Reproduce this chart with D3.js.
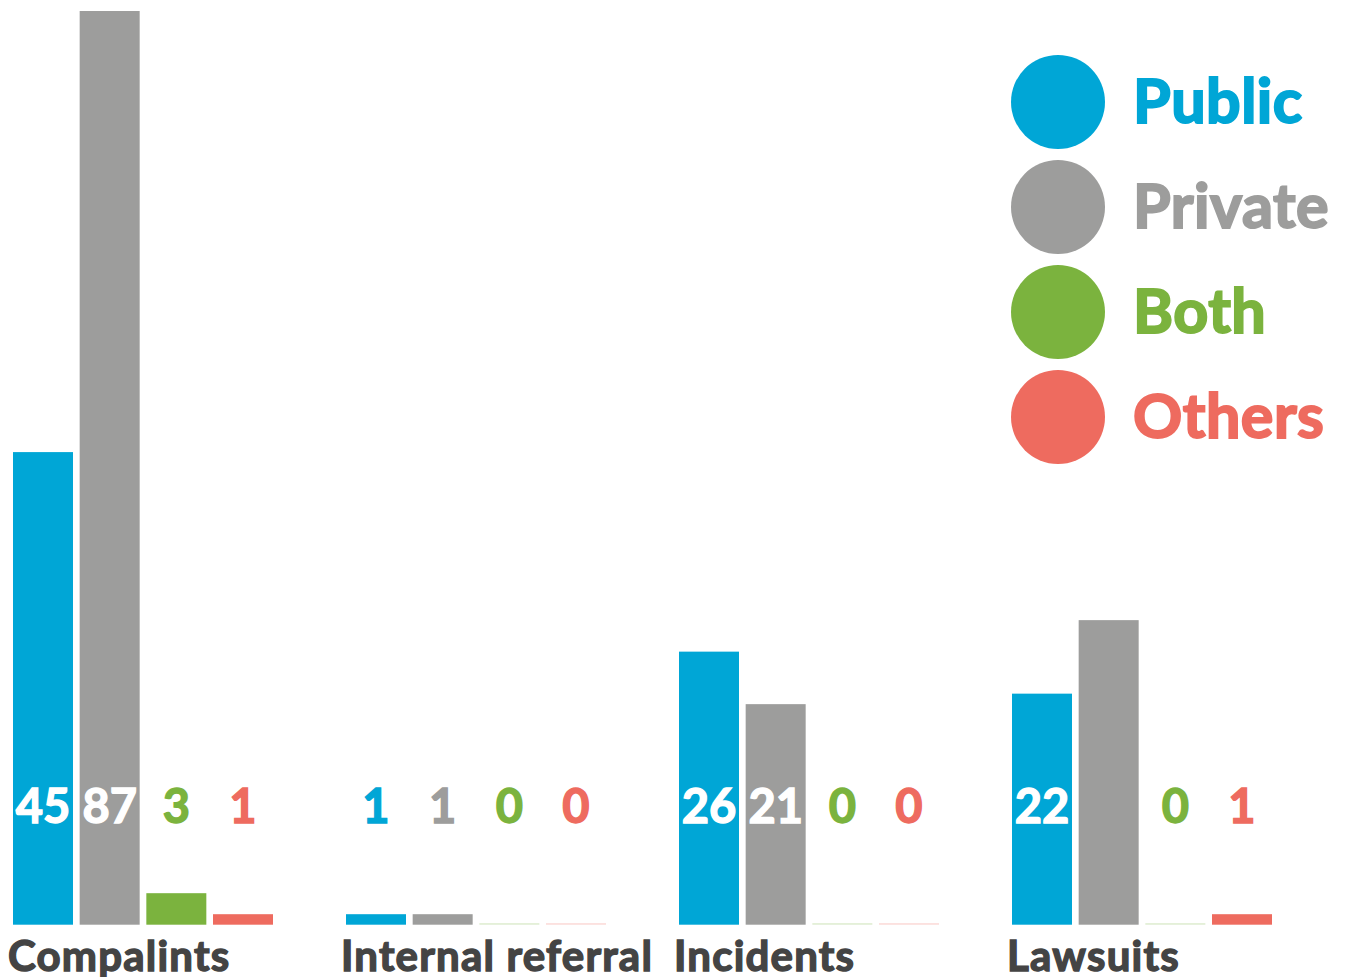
<!DOCTYPE html>
<html>
<head>
<meta charset="utf-8">
<script src="https://cdn.jsdelivr.net/npm/d3@7"></script>
<style>
  html, body { margin: 0; padding: 0; background: #fff; }
  svg { display: block; font-family: Lato, "Open Sans", sans-serif; }
</style>
</head>
<body>
<div id="chart"></div>
<script>
// data
const categories = ["Compalints", "Internal referral", "Incidents", "Lawsuits"];
const series = ["Public", "Private", "Both", "Others"];
const colors = ["#00a6d6", "#9d9d9c", "#7bb33e", "#ee6b5f"];
const publicValues = [45, 1, 26, 22];
const privateValues = [87, 1, 21, 29];
const bothValues = [3, 0, 0, 0];
const othersValues = [1, 0, 0, 1];
// the private lawsuits bar carries no number in the original
const privateLabelShown = [true, true, true, false];

const seriesValues = [publicValues, privateValues, bothValues, othersValues];

const width = 1346;
const height = 977;
const baseline = 924.7;

const svg = d3.select("#chart")
    .append("svg")
    .attr("width", width)
    .attr("height", height);

//scales
const x0 = d3.scaleBand()
    .domain(categories)
    .range([13, 1345])
    .paddingInner(0)
    .paddingOuter(0);

const x1 = d3.scaleBand()
    .domain(series)
    .range([0, 260])
    .paddingInner(0.1)
    .paddingOuter(0);

const y = d3.scaleLinear()
    .domain([0, 87])
    .range([baseline, 11]);

//flatten into one row per bar
const bars = [];
categories.forEach((cat, ci) => {
    series.forEach((s, si) => {
        bars.push({
            category: cat,
            series: s,
            color: colors[si],
            value: seriesValues[si][ci],
            showLabel: si == 1 ? privateLabelShown[ci] : true
        });
    });
});

const groups = svg.selectAll(".group")
    .data(categories)
    .enter().append("g")
    .attr("class", "group")
    .attr("transform", d => `translate(${x0(d)},0)`);

groups.selectAll(".bar")
    .data(cat => bars.filter(b => b.category == cat))
    .enter().append("rect")
    .attr("class", "bar")
    .attr("x", d => x1(d.series))
    .attr("width", x1.bandwidth())
    .attr("y", d => d.value > 0 ? y(d.value) : baseline - 1.5)
    .attr("height", d => d.value > 0 ? baseline - y(d.value) : 1.5)
    .style("fill", d => d.color)
    .style("fill-opacity", d => d.value > 0 ? 1 : 0.25);

// value labels sit at a fixed height, white inside tall bars
// (a thin stroke of the same colour makes the bold face look heavier)
const labelBaseline = 823;
groups.selectAll(".val")
    .data(cat => bars.filter(b => b.category == cat && b.showLabel))
    .enter().append("text")
    .attr("class", "val")
    .attr("x", d => x1(d.series) + x1.bandwidth() / 2)
    .attr("y", labelBaseline)
    .attr("text-anchor", "middle")
    .style("font-size", "47px")
    .style("font-weight", 700)
    .style("fill", d => y(d.value) < labelBaseline - 40 ? "#fff" : d.color)
    .style("stroke", d => y(d.value) < labelBaseline - 40 ? "#fff" : d.color)
    .style("stroke-width", 1.4)
    .text(d => d.value);

// category names under the baseline, cut by the bottom edge as in the original
svg.selectAll(".cat")
    .data(categories)
    .enter().append("text")
    .attr("class", "cat")
    .attr("x", d => x0(d) - 5)
    .attr("y", 971)
    .style("font-size", "42px")
    .style("font-weight", 700)
    .style("letter-spacing", "1.2px")
    .style("fill", "#444")
    .style("stroke", "#444")
    .style("stroke-width", 1.4)
    .text(d => d);

// legend
const ly = d3.scaleLinear().domain([0, 3]).range([102, 417]);
const legend = svg.selectAll(".legend")
    .data(series)
    .enter().append("g")
    .attr("class", "legend")
    .attr("transform", (d, i) => `translate(1058,${ly(i)})`);

legend.append("circle")
    .attr("r", 47)
    .style("fill", (d, i) => colors[i]);

legend.append("text")
    .attr("x", 75)
    .attr("y", 21)
    .style("font-size", "61px")
    .style("font-weight", 700)
    .style("letter-spacing", "0.5px")
    .style("fill", (d, i) => colors[i])
    .style("stroke", (d, i) => colors[i])
    .style("stroke-width", 2)
    .text(d => d);
</script>
</body>
</html>
